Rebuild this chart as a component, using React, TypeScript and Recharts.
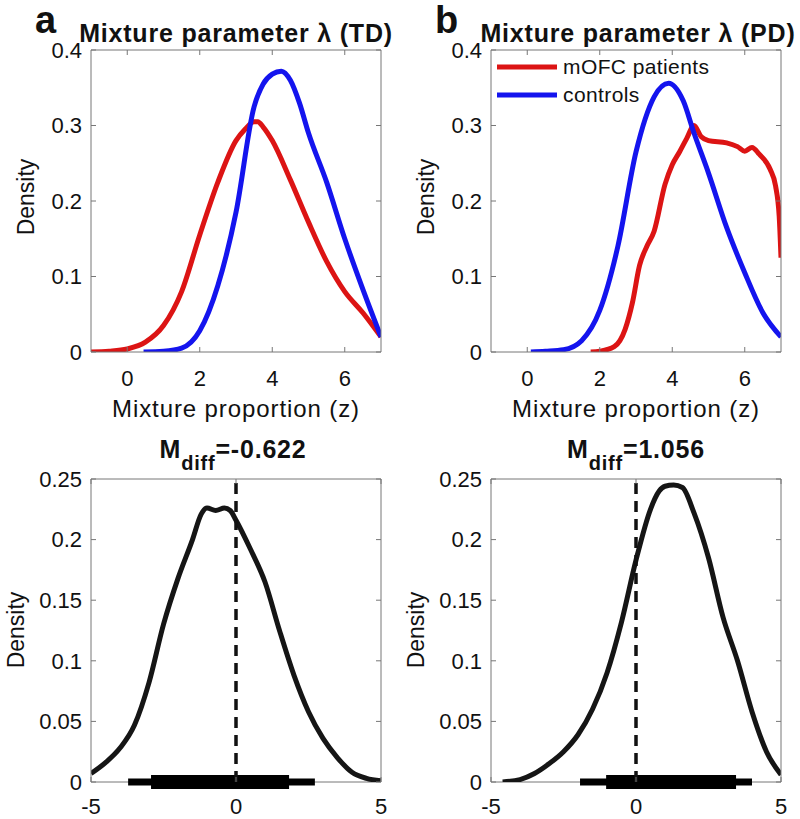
import React from 'react';
import { LineChart, Line, XAxis, YAxis, ReferenceLine, Legend } from 'recharts';

const FONT = '"Liberation Sans", Arial, Helvetica, sans-serif';

// top row: density of mixture proportion z
const zTicks = [0, 2, 4, 6];
const densityTicks = [0, 0.1, 0.2, 0.3, 0.4];

const tdPatientsZ = [-1, -0.5, 0, 0.5, 1, 1.5, 2, 2.5, 3, 3.25, 3.5, 3.6, 3.75, 4, 4.5, 5, 5.5, 6, 6.5, 7];
const tdPatientsD = [0, 0.001, 0.004, 0.013, 0.035, 0.08, 0.155, 0.225, 0.28, 0.295, 0.305, 0.305, 0.298, 0.28, 0.228, 0.172, 0.12, 0.08, 0.052, 0.02];
const tdControlsZ = [0.45, 1, 1.5, 2, 2.5, 3, 3.5, 3.75, 4, 4.25, 4.5, 4.75, 5, 5.5, 6, 6.5, 7];
const tdControlsD = [0, 0.001, 0.005, 0.028, 0.088, 0.185, 0.325, 0.355, 0.368, 0.372, 0.36, 0.33, 0.29, 0.225, 0.15, 0.083, 0.02];

const pdPatientsZ = [1.75, 2, 2.4, 2.7, 2.9, 3.1, 3.3, 3.5, 3.8, 4, 4.2, 4.4, 4.6, 4.8, 5, 5.5, 5.8, 6, 6.2, 6.4, 6.7, 6.85, 6.95, 7];
const pdPatientsD = [0, 0.001, 0.007, 0.03, 0.065, 0.115, 0.14, 0.16, 0.222, 0.248, 0.265, 0.283, 0.3, 0.285, 0.28, 0.277, 0.272, 0.266, 0.271, 0.262, 0.242, 0.22, 0.18, 0.125];
const pdControlsZ = [0.1, 0.5, 1, 1.5, 2, 2.5, 3, 3.5, 3.9, 4.3, 4.6, 5, 5.5, 6, 6.5, 7];
const pdControlsD = [0, 0.001, 0.003, 0.015, 0.055, 0.14, 0.265, 0.338, 0.356, 0.333, 0.29, 0.237, 0.165, 0.105, 0.052, 0.02];

// bottom row: posterior of the group difference
const diffTicks = [-5, 0, 5];
const diffDensityTicks = [0, 0.05, 0.1, 0.15, 0.2, 0.25];

const tdDiffX = [-5, -4.5, -4, -3.5, -3, -2.5, -2, -1.5, -1.2, -1, -0.7, -0.4, -0.2, 0, 0.5, 1, 1.5, 2, 2.5, 3, 3.5, 4, 4.5, 5];
const tdDiffD = [0.007, 0.016, 0.028, 0.047, 0.082, 0.13, 0.168, 0.2, 0.221, 0.226, 0.224, 0.226, 0.224, 0.216, 0.192, 0.165, 0.125, 0.088, 0.058, 0.036, 0.02, 0.008, 0.003, 0.001];
const pdDiffX = [-4.6, -4, -3.5, -3, -2.5, -2, -1.5, -1, -0.5, 0, 0.5, 0.8, 1, 1.3, 1.6, 2, 2.5, 3, 3.5, 4, 4.5, 5];
const pdDiffD = [0, 0.002, 0.007, 0.015, 0.025, 0.039, 0.06, 0.09, 0.132, 0.183, 0.225, 0.24, 0.244, 0.245, 0.243, 0.222, 0.185, 0.136, 0.1, 0.058, 0.025, 0.006];

// highest density intervals
const tdHdi95 = [-3.72, 2.72];
const tdHdi50 = [-2.93, 1.83];
const pdHdi95 = [-1.93, 4.0];
const pdHdi50 = [-1.03, 3.45];

const legendNames = ['mOFC patients', 'controls'];
const RED = '#dc1414';
const BLUE = '#1414ee';
const AXIS = '#777';

const zip = (xs: number[], ys: number[]) => xs.map((x, i) => ({ x, y: ys[i] }));

const noTick = () => null;
const tickStyle = { fill: '#111', fontSize: 22, fontFamily: FONT };

// MATLAB style box: inward ticks on all four sides, labels only bottom/left
const boxAxes = (xDomain: number[], xTicks: number[], yDomain: number[], yTicks: number[], xHeight: number, bottomLine = true) => [
  <XAxis key="xb" xAxisId="b" type="number" dataKey="x" domain={xDomain} ticks={xTicks} allowDataOverflow
    height={xHeight} tickSize={-5} tickMargin={xHeight > 40 ? 23 : 21} tick={tickStyle}
    axisLine={bottomLine ? { stroke: AXIS } : false} tickLine={{ stroke: AXIS }} />,
  <XAxis key="xt" xAxisId="t" orientation="top" type="number" dataKey="x" domain={xDomain} ticks={xTicks} allowDataOverflow
    height={1} tickSize={-5} tick={noTick} axisLine={{ stroke: AXIS }} tickLine={{ stroke: AXIS }} />,
  <YAxis key="yl" yAxisId="l" type="number" domain={yDomain} ticks={yTicks} allowDataOverflow
    width={91} tickSize={-5} tickMargin={14} tick={tickStyle}
    axisLine={{ stroke: AXIS }} tickLine={{ stroke: AXIS }} />,
  <YAxis key="yr" yAxisId="r" orientation="right" type="number" domain={yDomain} ticks={yTicks} allowDataOverflow
    width={1} tickSize={-5} tick={noTick} axisLine={{ stroke: AXIS }} tickLine={{ stroke: AXIS }} />,
];

const LegendBox = ({ payload }: any) => {
  const items = [...(payload || [])].sort((a: any, b: any) => legendNames.indexOf(a.value) - legendNames.indexOf(b.value));
  return (
    <div style={{ fontFamily: FONT, fontSize: 21, letterSpacing: 0.4, color: '#111' }}>
      {items.map((p: any) => (
        <div key={p.value} style={{ display: 'flex', alignItems: 'center', height: 28 }}>
          <svg width={60} height={8}>
            <line x1={0} x2={60} y1={4} y2={4} stroke={p.color} strokeWidth={5} />
          </svg>
          <span style={{ marginLeft: 6 }}>{p.value}</span>
        </div>
      ))}
    </div>
  );
};

const TopPanel = ({ left, patients, controls, legend }: any) => (
  <div style={{ position: 'absolute', left, top: 0 }}>
    <LineChart width={400} height={400} margin={{ top: 49, right: 18, bottom: 0, left: 0 }}>
      {boxAxes([-1, 7], zTicks, [0, 0.4], densityTicks, 48)}
      <Line xAxisId="b" yAxisId="l" data={patients} dataKey="y" name={legendNames[0]} type="monotone"
        stroke={RED} strokeWidth={5} strokeLinejoin="round" dot={false} activeDot={false} isAnimationActive={false} />
      <Line xAxisId="b" yAxisId="l" data={controls} dataKey="y" name={legendNames[1]} type="monotone"
        stroke={BLUE} strokeWidth={5} strokeLinejoin="round" dot={false} activeDot={false} isAnimationActive={false} />
      {legend && (
        <Legend layout="vertical" align="center" verticalAlign="middle" content={LegendBox}
          wrapperStyle={{ left: 97, top: 53, width: 'auto' }} />
      )}
    </LineChart>
  </div>
);

const DiffPanel = ({ left, curve, hdi95, hdi50 }: any) => (
  <div style={{ position: 'absolute', left, top: 400 }}>
    <LineChart width={400} height={419} margin={{ top: 78, right: 18, bottom: 0, left: 0 }}>
      {boxAxes([-5, 5], diffTicks, [0, 0.25], diffDensityTicks, 37, false)}
      <ReferenceLine xAxisId="b" yAxisId="l" y={0} stroke={AXIS} strokeWidth={1} />
      <Line xAxisId="b" yAxisId="l" data={curve} dataKey="y" type="monotone"
        stroke="#151515" strokeWidth={5} strokeLinejoin="round" dot={false} activeDot={false} isAnimationActive={false} />
      <ReferenceLine xAxisId="b" yAxisId="l" segment={[{ x: hdi95[0], y: 0 }, { x: hdi95[1], y: 0 }]}
        stroke="#000" strokeWidth={7} />
      <ReferenceLine xAxisId="b" yAxisId="l" segment={[{ x: hdi50[0], y: 0 }, { x: hdi50[1], y: 0 }]}
        stroke="#000" strokeWidth={14} />
      <ReferenceLine xAxisId="b" yAxisId="l" x={0} stroke="#111" strokeWidth={3.5} strokeDasharray="11 7" />
    </LineChart>
  </div>
);

const titleStyle = { fontFamily: FONT, fontWeight: 'bold' as const, fill: '#111' };
const labelStyle = { fontFamily: FONT, fill: '#111' };

export default function App() {
  return (
    <div style={{ position: 'absolute', left: 0, top: 0, width: 800, height: 819, background: '#fff' }}>
      <TopPanel left={0} patients={zip(tdPatientsZ, tdPatientsD)} controls={zip(tdControlsZ, tdControlsD)} />
      <TopPanel left={400} patients={zip(pdPatientsZ, pdPatientsD)} controls={zip(pdControlsZ, pdControlsD)} legend />
      <DiffPanel left={0} curve={zip(tdDiffX, tdDiffD)} hdi95={tdHdi95} hdi50={tdHdi50} />
      <DiffPanel left={400} curve={zip(pdDiffX, pdDiffD)} hdi95={pdHdi95} hdi50={pdHdi50} />
      <svg width={800} height={819} style={{ position: 'absolute', left: 0, top: 0, pointerEvents: 'none' }}>
        <text x={35} y={33} fontSize={38} {...titleStyle}>a</text>
        <text x={435} y={33} fontSize={38} {...titleStyle}>b</text>
        <text x={236} y={42} fontSize={25} letterSpacing={0.8} textAnchor="middle" {...titleStyle}>Mixture parameter λ (TD)</text>
        <text x={638} y={42} fontSize={25} letterSpacing={0.8} textAnchor="middle" {...titleStyle}>Mixture parameter λ (PD)</text>

        <text x={236} y={417} fontSize={24} letterSpacing={0.9} textAnchor="middle" {...labelStyle}>Mixture proportion (z)</text>
        <text x={636} y={417} fontSize={24} letterSpacing={0.9} textAnchor="middle" {...labelStyle}>Mixture proportion (z)</text>

        <text x={233} y={458} fontSize={25} letterSpacing={0.8} textAnchor="middle" {...titleStyle}>
          M<tspan dy={12} fontSize={20}>diff</tspan><tspan dy={-12}>=-0.622</tspan>
        </text>
        <text x={636} y={458} fontSize={25} letterSpacing={0.8} textAnchor="middle" {...titleStyle}>
          M<tspan dy={12} fontSize={20}>diff</tspan><tspan dy={-12}>=1.056</tspan>
        </text>

        <text transform="rotate(-90 34 197)" x={34} y={197} fontSize={23} textAnchor="middle" {...labelStyle}>Density</text>
        <text transform="rotate(-90 434 197)" x={434} y={197} fontSize={23} textAnchor="middle" {...labelStyle}>Density</text>
        <text transform="rotate(-90 24 630)" x={24} y={630} fontSize={23} textAnchor="middle" {...labelStyle}>Density</text>
        <text transform="rotate(-90 424 630)" x={424} y={630} fontSize={23} textAnchor="middle" {...labelStyle}>Density</text>
      </svg>
    </div>
  );
}
